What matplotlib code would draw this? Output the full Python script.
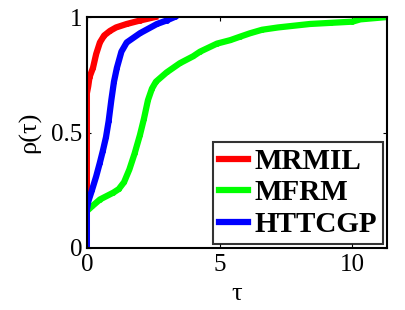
import matplotlib
matplotlib.use('Agg')
import matplotlib.pyplot as plt

plt.rcParams['font.family'] = ['Liberation Serif', 'DejaVu Serif']

# performance profile curves
tau_mrmil = [0, 0, 0.05, 0.1, 0.23, 0.35, 0.49, 0.65, 0.87, 1.1, 1.5, 2.0, 2.57]
rho_mrmil = [0.18, 0.67, 0.7, 0.74, 0.78, 0.84, 0.89, 0.92, 0.94, 0.955, 0.97, 0.985, 1.0]

tau_mfrm = [0, 0.19, 0.49, 1.0, 1.2, 1.4, 1.6, 1.8, 2.0, 2.15, 2.3, 2.45, 2.6, 3.0, 3.5, 4.0, 4.26,
            4.9, 5.4, 5.77, 6.15, 6.6, 7.2, 8.4, 9.2, 10.0, 10.3, 11.3]
rho_mfrm = [0.16, 0.18, 0.21, 0.24, 0.255, 0.285, 0.34, 0.41, 0.49, 0.56, 0.64, 0.69, 0.72, 0.76, 0.80, 0.83, 0.85,
            0.885, 0.90, 0.915, 0.93, 0.945, 0.955, 0.97, 0.975, 0.98, 0.99, 1.0]

tau_httcgp = [0, 0, 0.05, 0.19, 0.35, 0.49, 0.6, 0.72, 0.82, 0.92, 1.02, 1.13, 1.3, 1.5, 2.0, 2.64, 3.0, 3.3]
rho_httcgp = [0, 0.165, 0.2, 0.25, 0.31, 0.37, 0.42, 0.48, 0.55, 0.64, 0.72, 0.78, 0.85, 0.89, 0.93, 0.97, 0.985, 1.0]

names = ['MRMIL', 'MFRM', 'HTTCGP']
colors = ['#ff0000', '#00ff00', '#0000ff']

fig = plt.figure(figsize=(4.06, 3.10), dpi=100)
ax = fig.add_axes([0.214, 0.2, 0.739, 0.745])

for t, r, name, c in zip([tau_mrmil, tau_mfrm, tau_httcgp],
                         [rho_mrmil, rho_mfrm, rho_httcgp], names, colors):
    ax.plot(t, r, color=c, lw=4.5, marker='.', markersize=5, label=name)

ax.set_xlim(0, 11.3)
ax.set_ylim(0, 1)
ax.set_xticks([0, 5, 10])
ax.set_xticklabels(['0', '5', '10'])
ax.set_yticks([0, 0.5, 1])
ax.set_yticklabels(['0', '0.5', '1'])
ax.tick_params(direction='in', length=3, labelsize=18, top=True, right=True)
ax.tick_params(axis='x', pad=4)
ax.tick_params(axis='y', pad=3)
for s in ax.spines.values():
    s.set_linewidth(1.5)

ax.set_xlabel('τ', fontsize=19, labelpad=5)
ax.set_ylabel('ρ(τ)', fontsize=19, labelpad=7)

leg = ax.legend(loc='lower right', prop={'weight': 'bold', 'size': 21}, frameon=True,
                fancybox=False, edgecolor='black', handlelength=1.0, handletextpad=0.2,
                labelspacing=0.15, borderpad=0.2, borderaxespad=0.15)
leg.get_frame().set_linewidth(1.5)

fig.savefig('out.png', dpi=100)
